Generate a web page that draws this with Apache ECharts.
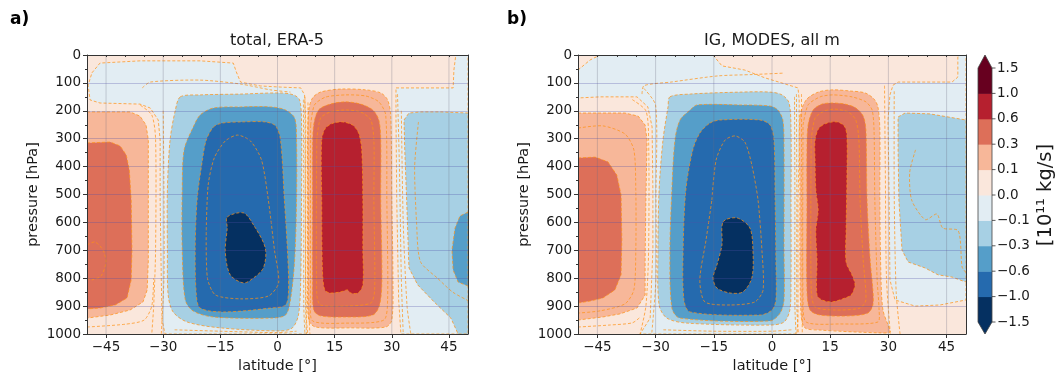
<!DOCTYPE html>
<html><head><meta charset="utf-8">
<script src="https://cdn.jsdelivr.net/npm/echarts@6/dist/echarts.min.js"></script>
<style>html,body{margin:0;padding:0;background:#fff}#c{width:1060px;height:374px}</style>
</head><body><div id="c"></div>
<script>
// ---------- levels, colours, ticks ----------
const levels = [-1.5, -1.0, -0.6, -0.3, -0.1, 0.0, 0.1, 0.3, 0.6, 1.0, 1.5];
const bandColors = ['#053061','#256aae','#559ec9','#a7d0e4','#e2edf3','#fae7dc','#f7b799','#dd6f59','#b6202f','#67001f'];
const latTicks = [-45, -30, -15, 0, 15, 30, 45];
const panelTitles = ['total, ERA-5', 'IG, MODES, all m'];
const panelLetters = ['a)', 'b)'];

// ---------- panel a: total, ERA-5 (filled regions as [lat, hPa]) ----------
const era5_bg = [[-50,0],[50,0],[50,1000],[-50,1000]];
const era5_negWeakMain = [[-48.7,64],[-46.6,29],[-36.1,21],[-20.3,21],[-11.6,29],[-10.8,61],[-9.7,97],[-4.5,111],[0.8,115],[6.1,118],[7.1,143],[7.4,233],[7.4,520],[7.4,806],[7.6,950],[7.9,1000],[-29.5,1000],[-30.3,950],[-30.5,806],[-30.8,520],[-30.8,305],[-31.3,233],[-33.4,190],[-36.1,176],[-46.6,172],[-49.2,161],[-49.7,108]];
const era5_negWeakEast = [[31.1,118],[46.1,118],[46.3,54],[46.8,0],[50,0],[50,1000],[32.4,1000],[31.8,878],[31.3,520],[31.1,233]];
const era5_posSH1 = [[-50,204],[-38.7,204],[-36.1,219],[-34.5,251],[-33.9,305],[-33.9,520],[-33.9,735],[-34.2,842],[-35.3,885],[-38.7,914],[-43.9,932],[-50,943]];
const era5_posSH2 = [[-50,315],[-43.9,312],[-41.3,326],[-39.7,358],[-38.9,412],[-38.4,520],[-38.2,699],[-38.4,806],[-39.5,871],[-42.6,896],[-46.6,907],[-50,910]];
const era5_negC1 = [[-25.5,150],[-20.3,143],[-9.7,140],[0.8,136],[4.2,143],[5.8,161],[6.3,233],[6.3,520],[6.1,806],[5.5,932],[3.9,978],[0.8,989],[-15,978],[-23.7,957],[-27.4,921],[-28.7,860],[-28.9,699],[-28.9,484],[-28.2,305],[-26.8,197]];
const era5_negC2 = [[-22.1,258],[-20.3,215],[-16.8,190],[-9.7,186],[-1.8,186],[2.1,197],[4.5,226],[5.0,305],[5.0,520],[4.5,735],[3.4,878],[2.1,932],[-1.8,943],[-16.8,939],[-22.1,918],[-24.2,878],[-25,699],[-25,484],[-24.5,340]];
const era5_negC3 = [[-16.8,258],[-14.5,244],[-9.7,240],[-3.2,240],[-0.5,254],[0.8,305],[1.8,520],[2.6,699],[2.9,842],[2.1,896],[-1.8,907],[-14.2,921],[-20.3,907],[-21.3,860],[-21.6,699],[-21.1,520],[-19.7,376],[-18.7,305]];
const era5_negC4 = [[-13.2,581],[-8.9,566],[-6.3,609],[-3.2,692],[-3.7,763],[-6.3,799],[-8.9,817],[-12.4,788],[-13.7,706],[-13.2,620]];
const era5_posC1 = [[8.2,197],[9.2,154],[11.3,133],[16.6,122],[23.2,125],[27.1,136],[28.9,161],[29.7,215],[30,520],[30.3,806],[30,950],[28.4,975],[19.2,978],[10,975],[8.2,950],[7.9,806],[7.9,520],[7.9,305]];
const era5_posC2 = [[9.5,251],[10.8,197],[13.9,176],[17.9,168],[21.8,176],[25,197],[26.6,233],[27.1,305],[27.1,520],[27.4,806],[26.8,896],[25,932],[17.9,939],[11.3,935],[9.5,914],[9.2,806],[9.2,520],[9.2,340]];
const era5_posC3 = [[11.6,305],[12.6,262],[14.7,244],[17.1,240],[19.7,251],[21.3,280],[22.1,340],[22.4,520],[22.4,699],[22.4,824],[21.1,853],[19.2,853],[18.4,842],[16.6,849],[13.9,853],[12.4,842],[11.8,771],[11.6,520]];
const era5_negNH1 = [[33.2,233],[34.5,208],[37.6,204],[42.9,204],[50,208],[50,1000],[47.4,1000],[45.5,943],[41.1,885],[36.8,824],[34.5,763],[33.9,520],[33.4,340]];
const era5_negNH2 = [[50,563],[47.9,577],[46.6,620],[45.8,699],[46.1,771],[47.4,814],[50,828]];
// extra dashed contour lines, panel a
const era5_lines = [
  [[-50,681],[-47.9,670],[-45.8,699],[-45,742],[-46.3,792],[-48.7,806],[-50,799]],
  [[-18.7,627],[-18.2,466],[-16.6,369],[-13.7,308],[-10.5,287],[-7.1,308],[-4.2,376],[-2.4,520],[-0.8,699],[0.3,817],[-2.4,864],[-9.7,874],[-16.3,860],[-18.4,799],[-18.7,627]],
  [[10.3,305],[11.3,226],[13.9,204],[17.9,197],[21.8,204],[24.5,233],[25.3,305],[25.3,520],[25.5,842],[24.5,889],[17.9,900],[11.3,896],[10.3,860],[10.3,305]],
  [[8.7,251],[9.7,179],[12.6,151],[17.9,143],[23.2,147],[26.6,168],[28.4,215],[28.7,520],[28.9,878],[27.9,950],[17.9,961],[9.2,953],[8.7,878],[8.7,251]],
  [[6.8,160],[6.9,500],[6.9,900],[7.2,1000]],
  [[7.2,150],[7.3,500],[7.4,900],[7.6,1000]],
  [[8.0,170],[8.1,500],[8.2,900],[8.5,1000]],
  [[-36,180],[-33,215],[-32,300],[-32,700],[-32.5,900],[-33,1000]],
  [[-30,200],[-29.8,500],[-29.8,800],[-30.5,1000]],
  [[31.5,140],[32,400],[32.5,800],[33,1000]],
  [[32.5,200],[33,600],[34,900],[35,1000]],
  [[37,240],[36,400],[36.5,600],[37.5,740],[42,800],[46,850],[50,880]],
  [[-35.5,118],[-33.4,97],[-20.3,90],[-9.7,104],[-1.8,125],[3.4,133]],
  [[-50,975],[-40,965],[-35,950],[-33,900],[-32.5,800]],
  [[-27,985],[-15,990],[0,995],[5,990]]
];

// ---------- panel b: IG, MODES, all m ----------
const modes_bg = [[-50,0],[50,0],[50,1000],[-50,1000]];
const modes_negWeakMain = [[-50,54],[-46.9,18],[-44.3,0],[-15.2,0],[-12.9,39],[-7,54],[-1.8,82],[3.4,104],[6.7,118],[7,161],[7,340],[6.7,520],[6.7,806],[6.7,950],[6.4,1000],[-34,1000],[-31.4,943],[-30.7,699],[-30.7,484],[-30.9,258],[-32,186],[-34.8,150],[-44.3,150],[-50,154]];
const modes_negWeakEast = [[31.2,108],[32.5,97],[46.4,97],[47.9,79],[47.9,7],[48.2,0],[50,0],[50,878],[43.3,896],[36.9,900],[31.7,878],[30.4,806],[30.2,520],[29.9,233],[30.4,143]];
const modes_posSH1 = [[-50,208],[-37.9,208],[-34.5,219],[-32.7,251],[-32.2,305],[-32.5,520],[-32.7,735],[-32.7,860],[-34.8,907],[-39.2,928],[-43.6,939],[-50,950]];
const modes_posSH2 = [[-50,369],[-45.6,366],[-42.3,383],[-40,430],[-38.9,502],[-38.7,663],[-38.9,788],[-40.5,842],[-43.6,871],[-46.9,882],[-50,889]];
const modes_negC1 = [[-26.3,150],[-21.1,140],[-8.2,133],[-0.5,133],[2.6,143],[4.4,172],[4.9,269],[4.9,520],[4.9,806],[4.6,914],[3.1,957],[-0.5,968],[-21.9,961],[-27.1,943],[-29.1,896],[-29.4,699],[-29.1,484],[-28.1,305],[-26.8,186]];
const modes_negC2 = [[-23.7,233],[-21.1,197],[-19.3,179],[-8.2,179],[-0.5,183],[1.5,197],[2.8,233],[3.1,340],[3.1,699],[3.1,878],[2.1,925],[-0.5,953],[-23.7,943],[-25.8,907],[-26.3,699],[-25.8,484],[-25,305]];
const modes_negC3 = [[-16,244],[-13.4,233],[-3.1,233],[-0.5,251],[0.5,305],[0.8,520],[1,735],[1,878],[0,914],[-3.1,932],[-21.1,921],[-22.7,878],[-22.9,699],[-22.2,484],[-20.4,340],[-18.6,280]];
const modes_negC4 = [[-12.6,598],[-9,584],[-5.7,620],[-4.9,706],[-5.2,799],[-7.5,849],[-10.8,853],[-14.2,835],[-15.2,799],[-14.2,753],[-12.9,681]];
const modes_posC1 = [[7.2,222],[8.8,161],[11.9,133],[15.5,125],[20.1,129],[24,136],[26.3,158],[27.3,186],[27.8,269],[27.8,520],[28.1,806],[28.6,914],[29.9,968],[30.4,993],[27.8,996],[12.4,986],[8.5,978],[7.5,932],[7.2,699],[7.2,484]];
const modes_posC2 = [[9.3,251],[10.6,197],[12.9,176],[15.5,172],[18.8,176],[21.6,190],[23.5,219],[24.2,269],[24.5,520],[25.3,735],[26,842],[26,896],[24.7,925],[20.1,935],[12.4,932],[9.8,914],[9,842],[9,520],[9,340]];
const modes_posC3 = [[11.1,305],[12.1,262],[14.2,244],[16.8,240],[18.6,254],[19.3,287],[19.3,448],[19.1,627],[19.1,742],[20.6,788],[21.4,824],[20.4,860],[18.8,871],[15.5,885],[12.9,878],[11.6,860],[11.6,735],[11.3,627],[11.9,556],[11.3,484],[11.1,376]];
const modes_negNH1 = [[32.5,222],[34.3,208],[40.7,211],[50,233],[50,814],[46.4,796],[42.8,788],[39.4,763],[35.1,742],[33.5,699],[32.7,520],[32.5,340]];
const modes_lines = [
  [[-50,262],[-43.6,254],[-37.9,283],[-35.6,340],[-35.1,484],[-35.1,699],[-35.6,842],[-37.9,892],[-44.3,917],[-50,925]],
  [[-15.5,520],[-14.4,376],[-12.1,305],[-9.5,290],[-7,312],[-5.2,394],[-3.6,520],[-2.6,699],[-2.3,842],[-4.4,885],[-10.8,896],[-17.3,885],[-18.6,806],[-17,663],[-15.5,520]],
  [[10.1,305],[11.1,226],[13.4,201],[16.2,194],[19.6,204],[21.6,233],[22.4,305],[22.7,520],[23.5,735],[24.2,878],[22.7,907],[16.2,914],[11.1,903],[10.1,842],[10.1,305]],
  [[8,251],[9.3,179],[12.4,150],[15.7,143],[20.6,150],[24.2,168],[25.8,197],[26.3,269],[26.5,520],[27.1,806],[27.6,914],[27.3,957],[17.5,964],[8.8,957],[8,878],[8,251]],
  [[5.8,150],[5.9,500],[5.9,900],[6.2,1000]],
  [[6.3,140],[6.4,500],[6.4,900],[6.8,1000]],
  [[7.6,140],[7.7,600],[7.8,1000]],
  [[-36,160],[-32.5,200],[-31.8,300],[-31.8,700],[-32.5,900],[-34,1000]],
  [[-33,120],[-30,180],[-29.9,500],[-29.9,800],[-31,1000]],
  [[29,110],[29.2,400],[29.5,800],[30.5,1000]],
  [[31.5,130],[31.5,500],[32,850],[33,1000]],
  [[37,340],[35.5,420],[36,520],[39.5,590],[42.5,570],[44,620],[48,630],[49,760],[50,780]],
  [[-33.5,140],[-33,110],[-26,97],[-14,75],[-5,70],[3,65]],
  [[-50,975],[-42,968],[-36,960],[-34,940]],
  [[-28,985],[-15,990],[0,990],[5,985]]
];

// ---------- assemble (band = colour band index; smooth = interior region) ----------
const era5Regions = [
  {pts: era5_bg, band: 5, outline: false},
  {pts: era5_negWeakMain, band: 4}, {pts: era5_negWeakEast, band: 4},
  {pts: era5_posSH1, band: 6}, {pts: era5_posSH2, band: 7},
  {pts: era5_negC1, band: 3, smooth: true}, {pts: era5_negC2, band: 2, smooth: true}, {pts: era5_negC3, band: 1, smooth: true}, {pts: era5_negC4, band: 0, smooth: true},
  {pts: era5_posC1, band: 6, smooth: true}, {pts: era5_posC2, band: 7, smooth: true}, {pts: era5_posC3, band: 8, smooth: true},
  {pts: era5_negNH1, band: 3}, {pts: era5_negNH2, band: 2}
];
const modesRegions = [
  {pts: modes_bg, band: 5, outline: false},
  {pts: modes_negWeakMain, band: 4}, {pts: modes_negWeakEast, band: 4},
  {pts: modes_posSH1, band: 6}, {pts: modes_posSH2, band: 7},
  {pts: modes_negC1, band: 3, smooth: true}, {pts: modes_negC2, band: 2, smooth: true}, {pts: modes_negC3, band: 1, smooth: true}, {pts: modes_negC4, band: 0, smooth: true},
  {pts: modes_posC1, band: 6, smooth: true}, {pts: modes_posC2, band: 7, smooth: true}, {pts: modes_posC3, band: 8, smooth: true},
  {pts: modes_negNH1, band: 3}
];

const FONT = 'DejaVu Sans';
const TXT = '#1a1a1a';
const lineColor = 'rgba(255,145,20,0.9)';
const fmtNum = v => (v < 0 ? '\u2212' + Math.abs(v) : String(v));
const fmtLev = v => (v < 0 ? '\u2212' + Math.abs(v).toFixed(1) : v.toFixed(1));

function fillSeries(regions, gi) {
  return { type: 'custom', xAxisIndex: gi * 3, yAxisIndex: gi * 2, clip: true, z: 1, silent: true,
    data: regions.map(r => r.pts[0]),
    renderItem: (params, api) => {
      const r = regions[params.dataIndex];
      return { type: 'polygon', shape: { points: r.pts.map(p => api.coord(p)), smooth: r.smooth ? 0.3 : 0 },
        style: { fill: bandColors[r.band], stroke: r.outline === false ? null : lineColor, lineWidth: 0.8, lineDash: [3, 2] } };
    } };
}
function lineSeries(lines, gi) {
  return { type: 'custom', xAxisIndex: gi * 3, yAxisIndex: gi * 2, clip: true, z: 2, silent: true,
    data: lines.map(l => l[0]),
    renderItem: (params, api) => ({ type: 'polyline', shape: { points: lines[params.dataIndex].map(p => api.coord(p)), smooth: 0.25 },
      style: { stroke: lineColor, lineWidth: 0.8, lineDash: [3, 2], fill: null } }) };
}
function vGridSeries(gi) {
  return { type: 'custom', xAxisIndex: gi * 3, yAxisIndex: gi * 2, clip: true, z: 3, silent: true,
    data: latTicks.map(v => [v, 0]),
    renderItem: (params, api) => {
      const v = latTicks[params.dataIndex];
      const a = api.coord([v, 0]), b = api.coord([v, 1000]);
      return { type: 'line', shape: { x1: a[0], y1: a[1], x2: b[0], y2: b[1] }, style: { stroke: 'rgba(110,110,130,0.3)', lineWidth: 1 } };
    } };
}
function xAxes(gi) {
  return [
    { type: 'value', gridIndex: gi, min: -50, max: 50, position: 'bottom', z: 5,
      axisLine: { show: true, onZero: false, lineStyle: { color: '#333', width: 1 } },
      axisTick: { show: true, customValues: latTicks, length: 4, lineStyle: { color: '#333' } },
      axisLabel: { show: true, customValues: latTicks, margin: 6, fontSize: 13.5, color: TXT, fontFamily: FONT, formatter: fmtNum },
      splitLine: { show: false },
      name: 'latitude [°]', nameLocation: 'middle', nameGap: 22,
      nameTextStyle: { fontSize: 14.5, color: TXT, fontFamily: FONT } },
    { type: 'value', gridIndex: gi, min: -50, max: 50, interval: 5, position: 'bottom', z: 5,
      axisLine: { show: false }, axisTick: { show: true, length: 2, lineStyle: { color: '#333' } },
      axisLabel: { show: false }, splitLine: { show: false } },
    { type: 'value', gridIndex: gi, min: -50, max: 50, position: 'top', z: 5,
      axisLine: { show: true, onZero: false, lineStyle: { color: '#333' } },
      axisTick: { show: false }, axisLabel: { show: false }, splitLine: { show: false } }
  ];
}
function yAxes(gi) {
  return [
    { type: 'value', gridIndex: gi, min: 0, max: 1000, interval: 100, inverse: true, position: 'left', z: 5,
      axisLine: { show: true, onZero: false, lineStyle: { color: '#333' } },
      axisTick: { show: true, length: 4, lineStyle: { color: '#333' } },
      minorTick: { show: true, splitNumber: 2, length: 2, lineStyle: { color: '#333' } },
      axisLabel: { fontSize: 13.5, margin: 6, color: TXT, fontFamily: FONT, formatter: v => String(v) },
      splitLine: { show: true, lineStyle: { color: 'rgba(80,80,170,0.3)', width: 1 } },
      name: 'pressure [hPa]', nameLocation: 'middle', nameGap: 46,
      nameTextStyle: { fontSize: 14.5, color: TXT, fontFamily: FONT } },
    { type: 'value', gridIndex: gi, min: 0, max: 1000, inverse: true, position: 'right', z: 5,
      axisLine: { show: true, onZero: false, lineStyle: { color: '#333' } },
      axisTick: { show: false }, axisLabel: { show: false }, splitLine: { show: false } }
  ];
}

// ---------- colour bar (legend) ----------
const cb = { x: 978, w: 14, apexTop: 55, top: 68, bottom: 322, apexBot: 334 };
const graphics = [];
const bh = (cb.bottom - cb.top) / bandColors.length;
bandColors.forEach((c, i) => {
  graphics.push({ type: 'rect', shape: { x: cb.x, y: cb.bottom - (i + 1) * bh, width: cb.w, height: bh + 0.5 }, style: { fill: c } });
});
graphics.push({ type: 'polygon', shape: { points: [[cb.x, cb.top], [cb.x + cb.w / 2, cb.apexTop], [cb.x + cb.w, cb.top]] }, style: { fill: bandColors[bandColors.length - 1] } });
graphics.push({ type: 'polygon', shape: { points: [[cb.x, cb.bottom], [cb.x + cb.w / 2, cb.apexBot], [cb.x + cb.w, cb.bottom]] }, style: { fill: bandColors[0] } });
graphics.push({ type: 'polyline', shape: { points: [[cb.x, cb.top], [cb.x + cb.w / 2, cb.apexTop], [cb.x + cb.w, cb.top], [cb.x + cb.w, cb.bottom], [cb.x + cb.w / 2, cb.apexBot], [cb.x, cb.bottom], [cb.x, cb.top]] }, style: { stroke: '#444', lineWidth: 0.8, fill: null } });
levels.forEach((v, j) => {
  const y = cb.bottom - j * bh;
  graphics.push({ type: 'line', shape: { x1: cb.x + cb.w, y1: y, x2: cb.x + cb.w + 3.5, y2: y }, style: { stroke: '#333', lineWidth: 0.8 } });
  graphics.push({ type: 'text', x: cb.x + cb.w + 5, y: y, style: { text: fmtLev(v), fill: TXT, font: '13.5px "DejaVu Sans"', align: 'left', verticalAlign: 'middle' } });
});
graphics.push({ type: 'text', x: 1046, y: 195, rotation: Math.PI / 2, style: { text: '[10\u00b9\u00b9 kg/s]', fill: TXT, font: '19.5px "DejaVu Sans"', align: 'center', verticalAlign: 'middle' } });
// titles and panel letters
const centers = [277, 772];
const letterX = [10, 507];
centers.forEach((cx, i) => {
  graphics.push({ type: 'text', x: cx, y: 41, style: { text: panelTitles[i], fill: TXT, font: '16px "DejaVu Sans"', align: 'center', verticalAlign: 'middle' } });
  graphics.push({ type: 'text', x: letterX[i], y: 20, style: { text: panelLetters[i], fill: '#000', font: 'bold 17px "DejaVu Sans"', align: 'left', verticalAlign: 'middle' } });
});

const chart = echarts.init(document.getElementById('c'), null, { renderer: 'canvas' });
chart.setOption({
  animation: false,
  backgroundColor: '#fff',
  grid: [
    { left: 87, top: 55, width: 381, height: 279, containLabel: false, outerBoundsMode: 'none' },
    { left: 578, top: 55, width: 388, height: 279, containLabel: false, outerBoundsMode: 'none' }
  ],
  xAxis: [...xAxes(0), ...xAxes(1)],
  yAxis: [...yAxes(0), ...yAxes(1)],
  series: [
    fillSeries(era5Regions, 0), lineSeries(era5_lines, 0), vGridSeries(0),
    fillSeries(modesRegions, 1), lineSeries(modes_lines, 1), vGridSeries(1)
  ],
  graphic: graphics
});
</script></body></html>
